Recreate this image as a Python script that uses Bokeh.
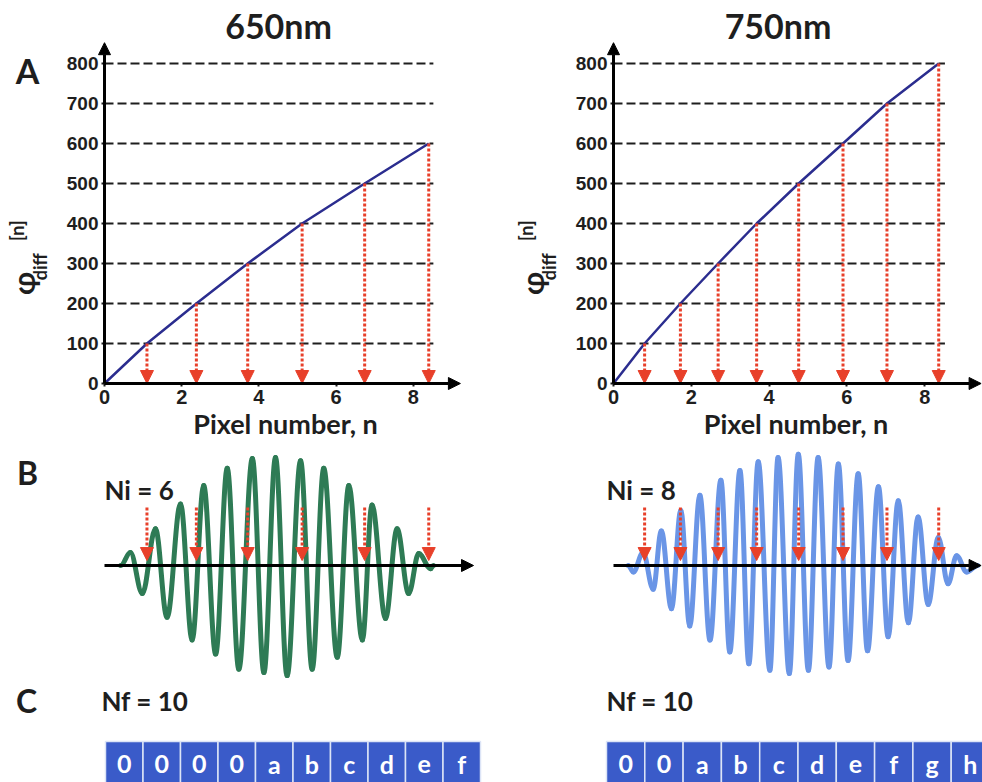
import numpy as np
from bokeh.plotting import figure
from bokeh.layouts import column, row
from bokeh.models import Range1d, LinearAxis, FixedTicker, Arrow, NormalHead, ColumnDataSource
from bokeh.core.properties import value
from bokeh.embed import file_html
from bokeh.resources import INLINE

# ---------------- data ----------------
titles = ["650nm", "750nm"]
phi_ticks = [0, 100, 200, 300, 400, 500, 600, 700, 800]
n_ticks = [0, 2, 4, 6, 8]

# pixel number at which the phase difference reaches each multiple of 100
n_650 = [0.0, 1.10, 2.38, 3.71, 5.12, 6.74, 8.40]
phi_650 = [0, 100, 200, 300, 400, 500, 600]
n_750 = [0.0, 0.80, 1.72, 2.69, 3.68, 4.76, 5.90, 7.03, 8.36]
phi_750 = [0, 100, 200, 300, 400, 500, 600, 700, 800]

ni_labels = ["Ni = 6", "Ni = 8"]
nf_labels = ["Nf = 10", "Nf = 10"]

# interferogram extrema: pixel number, normalised amplitude
wave650_n = [0.42, 0.67, 0.98, 1.32, 1.62, 1.97, 2.27, 2.57, 2.88, 3.18, 3.48, 3.83, 4.13, 4.43,
             4.73, 5.08, 5.38, 5.68, 6.03, 6.33, 6.68, 6.93, 7.28, 7.58, 7.88, 8.14, 8.45, 8.52]
wave650_a = [0.0, 0.12, -0.26, 0.34, -0.48, 0.57, -0.69, 0.74, -0.82, 0.90, -0.96, 0.99, -0.99, 1.00,
             -1.02, 0.97, -0.96, 0.90, -0.85, 0.74, -0.69, 0.56, -0.49, 0.34, -0.26, 0.11, -0.03, 0.0]
wave750_n = [0.38, 0.51, 0.76, 1.02, 1.23, 1.49, 1.73, 1.96, 2.22, 2.48, 2.76, 2.99, 3.25, 3.48,
             3.72, 4.02, 4.23, 4.52, 4.75, 5.01, 5.26, 5.54, 5.78, 6.03, 6.29, 6.53, 6.81, 7.06,
             7.32, 7.58, 7.83, 8.09, 8.35, 8.60, 8.82, 9.08, 9.36]
wave750_a = [0.0, -0.06, 0.12, -0.22, 0.32, -0.40, 0.51, -0.56, 0.65, -0.69, 0.79, -0.80, 0.88, -0.91,
             0.96, -0.97, 1.00, -1.00, 1.03, -0.97, 1.00, -0.94, 0.94, -0.88, 0.85, -0.79, 0.73, -0.66,
             0.60, -0.53, 0.45, -0.36, 0.26, -0.17, 0.09, -0.06, 0.0]

cells_650 = ["0", "0", "0", "0", "a", "b", "c", "d", "e", "f"]
cells_750 = ["0", "0", "a", "b", "c", "d", "e", "f", "g", "h"]

# ---------------- style / layout ----------------
FONT = "Lato"
TICK_FONT = "Liberation Sans"
INK = "#1e1e1e"
RED = "#e8402a"
NAVY = "#2b2d8f"
GREEN = "#2e7b55"
LIGHTBLUE = "#6a95e6"
BOXBLUE = "#3a5bc9"

W = 491
H_A, H_B, H_C = 440, 238, 104

# horizontal scale (px per pixel-number unit) and origin offset inside each column figure
PX_N = [38.6, 38.9]
ORIG_X = [104, 122]
# panel A vertical: 0.4 px per phase unit, origin 57 px above the bottom
PX_PHI = 0.4
ORIG_Y_A = 57
# panel B vertical: 108 px per amplitude unit, zero line 113 px above the bottom
PX_AMP = 108
ORIG_Y_B = 113
# panel C boxes
PX_BOX = [37.5, 38.3]
ORIG_BOX = [105, 115]
PX_ROW = 41

K = 0.364  # bezier handle for a half-cosine shape


def base_fig(xr, yr, h):
    p = figure(width=W, height=h, x_range=xr, y_range=yr, x_axis_location=None, y_axis_location=None,
               toolbar_location=None, output_backend="svg", title=None, min_border=0)
    p.outline_line_color = None
    p.grid.visible = False
    p.background_fill_color = "white"
    p.border_fill_color = "white"
    return p


def label(p, x, y, txt, size, color=INK, align="center", angle=0.0):
    p.text(x=[x], y=[y], text=[txt], text_font=value(FONT), text_font_style="bold",
           text_font_size=size, text_color=color, text_align=align, text_baseline="middle", angle=angle)


def red_arrows(p, xs, y0s, y1s):
    src = ColumnDataSource(dict(x=list(xs), y0=list(y0s), y1=list(y1s)))
    p.add_layout(Arrow(end=NormalHead(size=13, fill_color=RED, line_color=RED, line_width=1),
                       source=src, x_start="x", y_start="y0", x_end="x", y_end="y1",
                       line_color=RED, line_width=3, line_dash="3 2"))


def axis_arrow(p, x1, y1, x0=0, y0=0):
    p.add_layout(Arrow(end=NormalHead(size=12, fill_color="black", line_color="black", line_width=1),
                       x_start=x0, y_start=y0, x_end=x1, y_end=y1, line_color="black", line_width=3))


def panel_a(i, xr, n_pts, phi_pts, title, letter):
    yr = Range1d(-ORIG_Y_A / PX_PHI, (H_A - ORIG_Y_A) / PX_PHI)
    p = base_fig(xr, yr, H_A)
    guide = phi_ticks[1:]
    p.segment(x0=0, y0=guide, x1=8.52, y1=guide, line_color=INK, line_width=2.2, line_dash="9 4")
    p.line(n_pts, phi_pts, line_color=NAVY, line_width=2.5)
    red_arrows(p, n_pts[1:], phi_pts[1:], [0] * (len(n_pts) - 1))

    yax = LinearAxis(fixed_location=0, ticker=FixedTicker(ticks=phi_ticks), bounds=(0, 800))
    xax = LinearAxis(fixed_location=0, ticker=FixedTicker(ticks=n_ticks), bounds=(0, 9.38),
                     axis_label="Pixel number, n")
    for ax in (yax, xax):
        ax.axis_line_color = None
        ax.major_tick_out = 3
        ax.major_tick_in = 0
        ax.minor_tick_out = 0
        ax.minor_tick_in = 0
        ax.major_tick_line_width = 2
        ax.major_tick_line_color = INK
        ax.major_label_text_font = TICK_FONT
        ax.major_label_text_font_style = "bold"
        ax.major_label_text_color = INK
        ax.major_label_standoff = 3
    yax.major_label_text_font_size = "19px"
    xax.major_label_text_font_size = "20px"
    xax.axis_label_text_font = FONT
    xax.axis_label_text_font_style = "bold"
    xax.axis_label_text_font_size = "27px"
    xax.axis_label_text_color = INK
    xax.axis_label_standoff = 0
    p.add_layout(yax, "left")
    p.add_layout(xax, "below")

    axis_arrow(p, 0, 852)
    axis_arrow(p, [9.22, 9.45][i], 0)

    px = PX_N[i]
    label(p, [4.51, 4.23][i], 895, title, "34px")
    if letter:
        label(p, -77 / px, 782, letter, "34px")
    # y label: phi_diff^[n]
    label(p, -82 / px, 250, "\u03c6", "30px", angle=np.pi / 2)
    label(p, -65 / px, 292, "diff", "18px", angle=np.pi / 2)
    label(p, -88 / px, 382, "[n]", "18px", angle=np.pi / 2)
    return p


def panel_b(i, xr, wn, wa, n_pts, letter, ni):
    p = base_fig(xr, Range1d(-ORIG_Y_B / PX_AMP, (H_B - ORIG_Y_B) / PX_AMP), H_B)
    wn = np.asarray(wn)
    wa = np.asarray(wa)
    dx = np.diff(wn)
    p.bezier(x0=wn[:-1], y0=wa[:-1], x1=wn[1:], y1=wa[1:],
             cx0=wn[:-1] + K * dx, cy0=wa[:-1], cx1=wn[1:] - K * dx, cy1=wa[1:],
             line_color=[GREEN, LIGHTBLUE][i], line_width=5, line_cap="round")
    axis_arrow(p, [9.56, 9.45][i], 0)
    m = len(n_pts) - 1
    red_arrows(p, n_pts[1:], [0.537] * m, [0.046] * m)
    px = PX_N[i]
    if letter:
        label(p, -77 / px, 0.861, letter, "32px")
    label(p, [0.0, -0.18][i], 0.70, ni, "26px", align="left")
    return p


def panel_c(i, cells, letter, nf):
    px = PX_BOX[i]
    x0 = -ORIG_BOX[i] / px
    xr = Range1d(x0, x0 + W / px)
    yr = Range1d(0, H_C / PX_ROW)
    p = base_fig(xr, yr, H_C)
    idx = np.arange(len(cells))
    p.quad(left=idx, right=idx + 1, bottom=-0.2, top=1.0, fill_color=BOXBLUE,
           line_color="#dce4f6", line_width=1.5)
    p.text(x=idx + 0.5, y=0.44, text=cells, text_font=value(FONT), text_font_style="bold",
           text_font_size="25px", text_color="white", text_align="center", text_baseline="middle")
    if letter:
        label(p, -79 / px, 2.0, letter, "32px")
    label(p, [-0.107, 0.0][i], 2.0, nf, "26px", align="left")
    return p


xr_left = Range1d(-ORIG_X[0] / PX_N[0], (W - ORIG_X[0]) / PX_N[0])
xr_right = Range1d(-ORIG_X[1] / PX_N[1], (W - ORIG_X[1]) / PX_N[1])

a1 = panel_a(0, xr_left, n_650, phi_650, titles[0], "A")
a2 = panel_a(1, xr_right, n_750, phi_750, titles[1], None)
b1 = panel_b(0, xr_left, wave650_n, wave650_a, n_650, "B", ni_labels[0])
b2 = panel_b(1, xr_right, wave750_n, wave750_a, n_750, None, ni_labels[1])
c1 = panel_c(0, cells_650, "C", nf_labels[0])
c2 = panel_c(1, cells_750, None, nf_labels[1])

layout = column(row(a1, a2), row(b1, b2), row(c1, c2))

with open("out.html", "w") as f:
    f.write(file_html(layout, INLINE))
